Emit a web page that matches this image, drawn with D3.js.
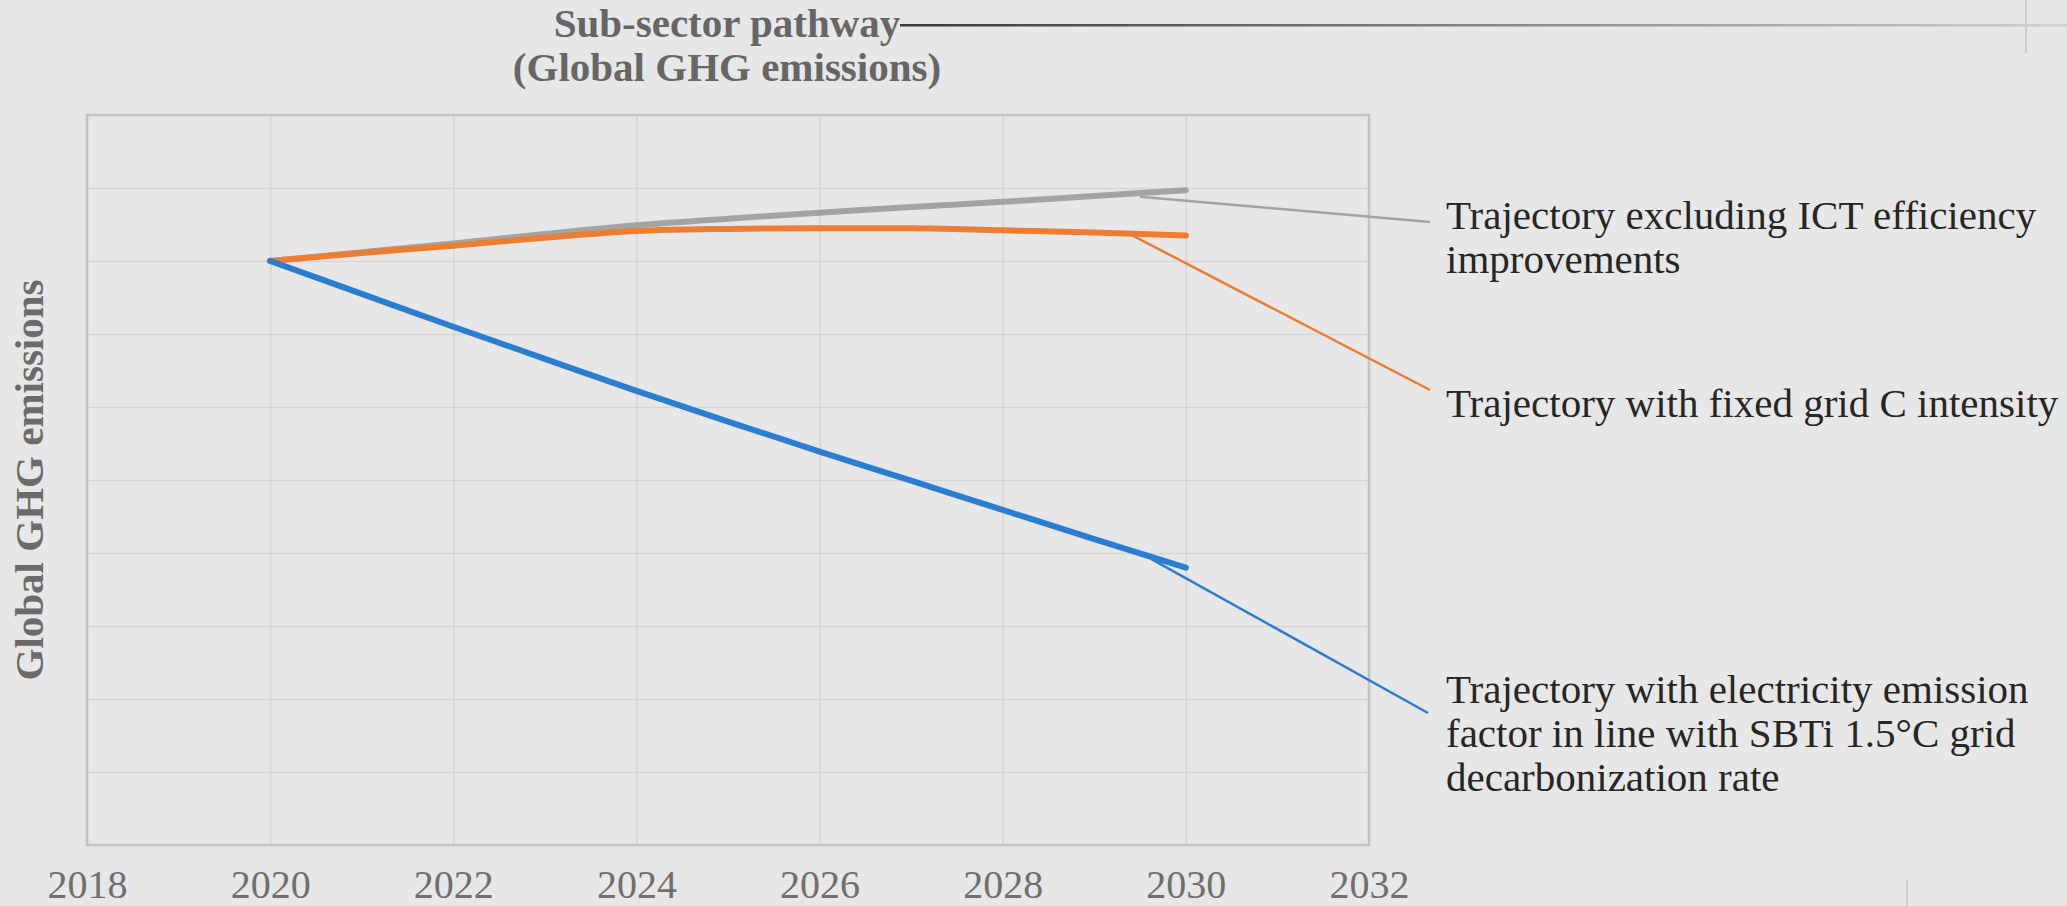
<!DOCTYPE html>
<html>
<head>
<meta charset="utf-8">
<script src="https://cdn.jsdelivr.net/npm/d3@7"></script>
<style>
  html, body { margin: 0; padding: 0; background: #e7e7e7; }
  svg { display: block; }
</style>
</head>
<body>
<div id="chart"></div>
<script>
// Our canvas
const width = 2067,
  height = 906,
  margin = { top: 115, right: 698, bottom: 61, left: 87 }

// Data
const years = [2020, 2021, 2022, 2023, 2024, 2025, 2026, 2027, 2028, 2029, 2030]
const excludingIct = [8.0, 8.12, 8.24, 8.37, 8.49, 8.58, 8.66, 8.74, 8.81, 8.89, 8.97]
const fixedGrid = [8.0, 8.11, 8.21, 8.32, 8.41, 8.44, 8.45, 8.45, 8.42, 8.39, 8.35]
const sbtiGrid = [8.0, 7.55, 7.1, 6.66, 6.22, 5.8, 5.39, 4.99, 4.59, 4.19, 3.8]
const xTicks = [2018, 2020, 2022, 2024, 2026, 2028, 2030, 2032]
const yGrid = [0, 1, 2, 3, 4, 5, 6, 7, 8, 9, 10]

const seriesNames = [
  ['Trajectory excluding ICT efficiency', 'improvements'],
  ['Trajectory with fixed grid C intensity'],
  ['Trajectory with electricity emission', 'factor in line with SBTi 1.5°C grid', 'decarbonization rate']
]
const seriesColors = ['#a3a3a3', '#ed7d31', '#2b7dd0']
// where each leader line leaves its curve (year, value)
const anchorYears = [2029.5, 2029.4, 2029.62]
const anchorValues = [8.88, 8.36, 3.92]

const serif = '"Liberation Serif", "Times New Roman", serif'

// Drawing area
let svg = d3.select('#chart')
  .append('svg')
  .attr('width', width)
  .attr('height', height)
  .style('background', '#e7e7e7')

const x = d3.scaleLinear()
  .domain([2018, 2032])
  .range([margin.left, width - margin.right])

const y = d3.scaleLinear()
  .domain([0, 10])
  .range([height - margin.bottom, margin.top])

// gridlines
svg.append('g')
  .attr('transform', `translate(${margin.left},0)`)
  .call(d3.axisLeft(y).tickValues(yGrid).tickSize(-(x.range()[1] - x.range()[0])).tickFormat(''))
  .call(g => g.select('.domain').remove())
  .call(g => g.selectAll('line').attr('stroke', '#d6d6d6').attr('stroke-width', 1.5))

svg.append('g')
  .attr('transform', `translate(0,${margin.top})`)
  .call(d3.axisTop(x).tickValues(xTicks).tickSize(-(y.range()[0] - y.range()[1])).tickFormat(''))
  .call(g => g.select('.domain').remove())
  .call(g => g.selectAll('line').attr('stroke', '#d6d6d6').attr('stroke-width', 1.5))

// frame
svg.append('rect')
  .attr('x', x(2018))
  .attr('y', y(10))
  .attr('width', x(2032) - x(2018))
  .attr('height', y(0) - y(10))
  .attr('fill', 'none')
  .attr('stroke', '#c4c4c4')
  .attr('stroke-width', 2.5)

// x axis labels
svg.append('g')
  .attr('transform', `translate(0,${y(0)})`)
  .call(d3.axisBottom(x).tickValues(xTicks).tickSize(0).tickFormat(d3.format('d')))
  .call(g => g.select('.domain').remove())
  .call(g => g.selectAll('text')
    .attr('y', 53)
    .attr('dy', 0)
    .attr('fill', '#6f6f6f')
    .style('font-family', serif)
    .style('font-size', '40px'))

// y axis title
svg.append('text')
  .attr('transform', `translate(43,${(y(0) + y(10)) / 2}) rotate(-90)`)
  .attr('text-anchor', 'middle')
  .attr('fill', '#6b6b6b')
  .style('font-family', serif)
  .style('font-weight', 'bold')
  .style('font-size', '41px')
  .text('Global GHG emissions')

// chart title
const title = svg.append('text')
  .attr('text-anchor', 'middle')
  .attr('fill', '#666')
  .style('font-family', serif)
  .style('font-weight', 'bold')
  .style('font-size', '41px')
title.append('tspan').attr('x', 727).attr('y', 37).text('Sub-sector pathway')
title.append('tspan').attr('x', 727).attr('y', 81).text('(Global GHG emissions)')

const grad = svg.append('defs').append('linearGradient')
  .attr('id', 'fade')
grad.append('stop').attr('offset', '0%').attr('stop-color', '#3a3a3a')
grad.append('stop').attr('offset', '100%').attr('stop-color', '#d0d0d0')

svg.append('rect')
  .attr('x', 900).attr('y', 24)
  .attr('width', width - 900).attr('height', 2.5)
  .attr('fill', 'url(#fade)')

svg.append('line')
  .attr('x1', 2026).attr('x2', 2026).attr('y1', 0).attr('y2', 53)
  .attr('stroke', '#cccccc').attr('stroke-width', 2)

svg.append('line')
  .attr('x1', 1907).attr('x2', 1907).attr('y1', 880).attr('y2', height)
  .attr('stroke', '#cccccc').attr('stroke-width', 2)

// lines
const line = d3.line()
  .x((d, i) => x(years[i]))
  .y(d => y(d))
  .curve(d3.curveMonotoneX)

const allSeries = [excludingIct, fixedGrid, sbtiGrid]
svg.selectAll('path.series')
  .data(allSeries)
  .enter()
  .append('path')
  .attr('class', 'series')
  .attr('d', line)
  .attr('fill', 'none')
  .attr('stroke', (d, i) => seriesColors[i])
  .attr('stroke-width', 6)
  .attr('stroke-linecap', 'round')

// labels with leader lines
const labelX = 1446
const labelY = [229, 417, 703]
const lineGap = 44
const leaderEnd = [[1430, 222], [1430, 390], [1428, 713]]

seriesNames.forEach((lines, i) => {
  svg.append('line')
    .attr('x1', x(anchorYears[i]))
    .attr('y1', y(anchorValues[i]))
    .attr('x2', leaderEnd[i][0])
    .attr('y2', leaderEnd[i][1])
    .attr('stroke', seriesColors[i])
    .attr('stroke-width', 2.5)

  const t = svg.append('text')
    .attr('fill', '#262626')
    .style('font-family', serif)
    .style('font-size', '41px')
  lines.forEach((s, j) => {
    t.append('tspan').attr('x', labelX).attr('y', labelY[i] + j * lineGap).text(s)
  })
})
</script>
</body>
</html>
